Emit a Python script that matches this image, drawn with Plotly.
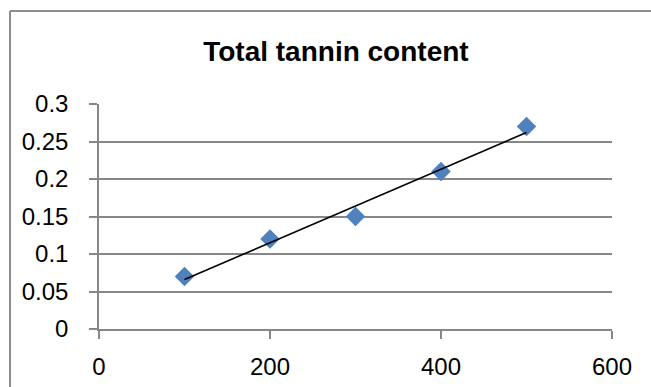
import numpy as np
import plotly.graph_objects as go

# Tannin measurements
concentration = [100, 200, 300, 400, 500]
tannin = [0.07, 0.12, 0.15, 0.21, 0.27]

x_ticks = [0, 200, 400, 600]
y_ticks = [0, 0.05, 0.1, 0.15, 0.2, 0.25, 0.3]
y_tick_text = ["0", "0.05", "0.1", "0.15", "0.2", "0.25", "0.3"]

# Least-squares linear trend line over the measured range
slope, intercept = np.polyfit(concentration, tannin, 1)
trend_x = [concentration[0], concentration[-1]]
trend_y = [slope * v + intercept for v in trend_x]

FONT = "Liberation Sans"
GRID = "#878787"

W, H = 651, 387
L, R, T, B = 99, 39, 104, 58
PW, PH = W - L - R, H - T - B

fig = go.Figure()
fig.add_trace(go.Scatter(
    x=concentration, y=tannin, mode="markers",
    marker=dict(symbol="diamond", size=15, color="#4F81BD", line=dict(width=0)),
    showlegend=False, hoverinfo="x+y",
))
fig.add_trace(go.Scatter(
    x=trend_x, y=trend_y, mode="lines",
    line=dict(color="black", width=1.6),
    showlegend=False, hoverinfo="skip",
))

# Chart-area frame: left and top edges, kept inside the canvas
frame_x0 = (10 - L) / PW
frame_x1 = (W - L) / PW
frame_y0 = -B / PH
frame_y1 = (T + PH - 11) / PH
frame = dict(color="#8e8e8e", width=2)

fig.update_layout(
    width=W, height=H,
    margin=dict(l=L, r=R, t=T, b=B, autoexpand=False),
    paper_bgcolor="white", plot_bgcolor="white",
    font=dict(family=FONT, size=24, color="black"),
    title=dict(
        text="<b>Total tannin content</b>",
        font=dict(family=FONT, size=28, color="black"),
        xref="container", x=0.516, xanchor="center",
        yref="container", y=1 - 51 / H, yanchor="middle",
        automargin=False,
    ),
    xaxis=dict(
        range=[0, 600], tickvals=x_ticks, ticktext=[str(v) for v in x_ticks],
        showgrid=False, zeroline=False, automargin=False,
        showline=True, linecolor=GRID, linewidth=1.5,
        ticks="outside", ticklen=8, tickcolor=GRID, tickwidth=1.5,
        ticklabelstandoff=7,
        tickfont=dict(family=FONT, size=24, color="black"),
    ),
    yaxis=dict(
        range=[0, 0.3], tickvals=y_ticks, ticktext=y_tick_text,
        showgrid=True, gridcolor=GRID, gridwidth=1.5, zeroline=False,
        automargin=False,
        showline=True, linecolor=GRID, linewidth=1.5,
        ticks="outside", ticklen=8, tickcolor=GRID, tickwidth=1.5,
        ticklabelstandoff=16,
        tickfont=dict(family=FONT, size=24, color="black"),
    ),
    shapes=[
        dict(type="line", xref="paper", yref="paper",
             x0=frame_x0, x1=frame_x0, y0=frame_y0, y1=frame_y1,
             line=frame, layer="below"),
        dict(type="line", xref="paper", yref="paper",
             x0=frame_x0, x1=frame_x1, y0=frame_y1, y1=frame_y1,
             line=frame, layer="below"),
    ],
)

fig.write_html("out.html", config={"displayModeBar": False})
